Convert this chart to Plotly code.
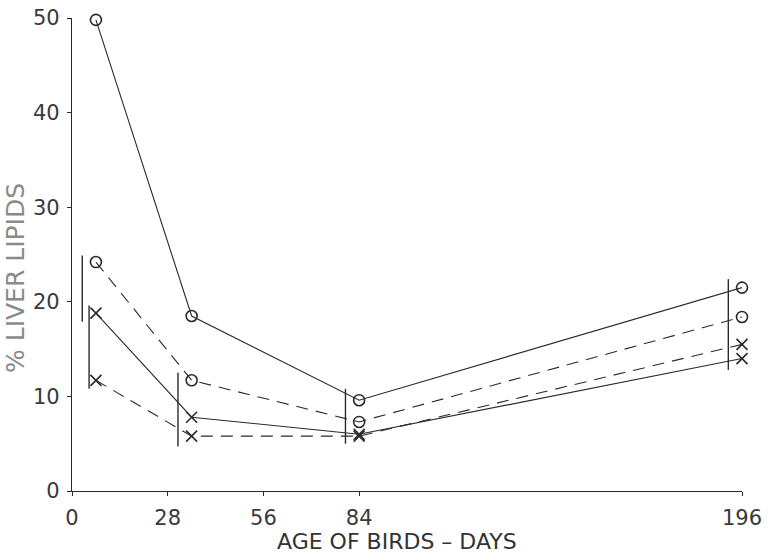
import plotly.graph_objects as go

days = [7, 35, 84, 196]
solid_circle = [49.8, 18.5, 9.6, 21.5]
dashed_circle = [24.2, 11.7, 7.3, 18.4]
solid_x = [18.8, 7.8, 6.0, 14.0]
dashed_x = [11.7, 5.8, 5.8, 15.5]

# LSD-type vertical bars: x position, bottom, top
bar_x = [3, 5, 31, 80, 192]
bar_lo = [17.9, 10.8, 4.7, 5.0, 12.8]
bar_hi = [24.9, 19.6, 12.5, 10.8, 22.4]

x_ticks = [0, 28, 56, 84, 196]
y_ticks = [0, 10, 20, 30, 40, 50]

ink = "#2a2a2a"
fig = go.Figure()

series = [
    (solid_circle, "solid", "circle-open"),
    (dashed_circle, "12px,8px", "circle-open"),
    (solid_x, "solid", "x-thin-open"),
    (dashed_x, "12px,8px", "x-thin-open"),
]
for vals, dash, sym in series:
    fig.add_trace(go.Scatter(
        x=days, y=vals, mode="lines+markers",
        line=dict(color=ink, width=1.1, dash=dash),
        marker=dict(symbol=sym, size=11, color=ink, line=dict(width=1.6, color=ink)),
        cliponaxis=False, showlegend=False,
    ))

for bx, lo, hi in zip(bar_x, bar_lo, bar_hi):
    fig.add_trace(go.Scatter(
        x=[bx, bx], y=[lo, hi], mode="lines",
        line=dict(color=ink, width=1.4), cliponaxis=False, showlegend=False,
    ))

tickfont = dict(family="DejaVu Sans, sans-serif", size=21, color="#3a3a3a")

fig.update_layout(
    width=768, height=557,
    margin=dict(l=72, r=26, t=18, b=66, autoexpand=False),
    paper_bgcolor="white", plot_bgcolor="white",
    font=tickfont,
    xaxis=dict(
        range=[0, 196], tickvals=x_ticks, ticktext=[str(t) for t in x_ticks],
        showgrid=False, zeroline=False, showline=True, linecolor=ink, linewidth=1.3,
        ticks="outside", ticklen=4, tickcolor=ink, ticklabelstandoff=4,
        tickfont=tickfont, automargin=False,
    ),
    yaxis=dict(
        range=[0, 50], tickvals=y_ticks,
        showgrid=False, zeroline=False, showline=True, linecolor=ink, linewidth=1.3,
        ticks="outside", ticklen=4, tickcolor=ink, ticklabelstandoff=3,
        tickfont=tickfont, automargin=False,
    ),
    annotations=[
        dict(text="AGE OF BIRDS – DAYS", xref="paper", yref="paper",
             x=(397 - 72) / 670, y=-(541 - 491) / 473, xanchor="center", yanchor="middle",
             showarrow=False, font=dict(family="DejaVu Sans, sans-serif", size=22, color="#333333")),
        dict(text="% LIVER LIPIDS", xref="paper", yref="paper", textangle=-90,
             x=(15 - 72) / 670, y=(491 - 278) / 473, xanchor="center", yanchor="middle",
             showarrow=False, font=dict(family="DejaVu Sans, sans-serif", size=25, color="#8a8a8a")),
    ],
)

fig.write_html("out.html")
